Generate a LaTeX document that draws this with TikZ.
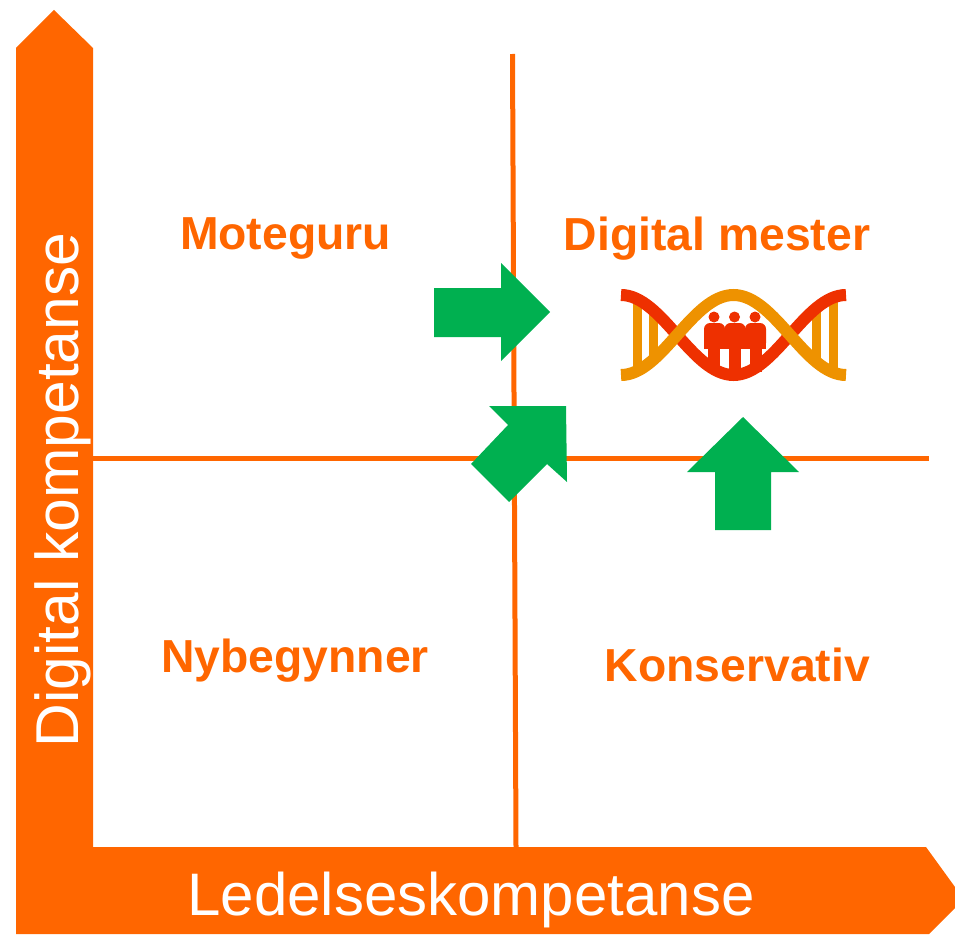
\documentclass[tikz,border=0pt]{standalone}
\usepackage{fontspec}
\setmainfont{Liberation Sans}
\definecolor{axisorange}{HTML}{FF6600}
\definecolor{arrowgreen}{HTML}{00B050}
\definecolor{dnared}{HTML}{EE3000}
\definecolor{dnaorange}{HTML}{EE9200}
\tikzset{
  quadlabel/.style={anchor=base,inner sep=0pt,text=axisorange,font=\fontsize{46.3}{50}\selectfont\bfseries},
  axislabel/.style={anchor=base,inner sep=0pt,text=white},
  divider/.style={draw=axisorange,line width=5pt},
  greenarrow/.style={fill=arrowgreen,draw=none},
  strandred/.style={draw=dnared,line width=12pt},
  strandorange/.style={draw=dnaorange,line width=12pt},
  rung/.style={draw=dnaorange,line width=9pt},
  person/.style={fill=dnared,draw=none}
}
\begin{document}
\begin{tikzpicture}[x=1pt,y=-1pt]
\useasboundingbox (0,0) rectangle (955,934);
% axes
\fill[axisorange] (16,48) -- (54,10) -- (93,48) -- (93,847) -- (926,847) -- (955,887) -- (955,908) -- (929,934) -- (16,934) -- cycle;
% dividers
\coordinate (vtop) at (512.5,54);
\coordinate (vbot) at (516,847);
\coordinate (hleft) at (93,458);
\coordinate (hright) at (929,458);
\draw[divider] (vtop) -- (vbot);
\draw[divider] (hleft) -- (hright);
% axis labels
\node[axislabel,font=\fontsize{60}{64}\selectfont] (xlabel) at (471,915) {Ledelseskompetanse};
\node[axislabel,font=\fontsize{60.5}{64}\selectfont,rotate=90] (ylabel) at (78,490) {Digital kompetanse};
% quadrant labels
\node[quadlabel] (moteguru) at (285.5,249) {Moteguru};
\node[quadlabel] (mester) at (717,250) {Digital mester};
\node[quadlabel] (nybegynner) at (295,672) {Nybegynner};
\node[quadlabel] (konservativ) at (737.5,681) {Konservativ};
% green arrows
\fill[greenarrow] (434,288) -- (501,288) -- (501,263) -- (550,312) -- (501,361) -- (501,337) -- (434,337) -- cycle;
\fill[greenarrow] (489,406) -- (566,406) -- (567,482) -- (547,464) -- (509,502) -- (471,464) -- (508,425) -- cycle;
\fill[greenarrow] (743,417) -- (799,472) -- (771,472) -- (771,530) -- (715,530) -- (715,472) -- (687,472) -- cycle;
% DNA logo
\draw[rung] (637.5,299) -- (637.5,371);
\draw[rung] (653.5,310) -- (653.5,360);
\draw[rung] (816,310) -- (816,360);
\draw[rung] (833,299) -- (833,371);
\draw[strandred] (621,295) .. controls (662,295) and (692,375) .. (733.5,375) .. controls (775,375) and (805,295) .. (846,295);
\fill[person] (714,317) circle (5.5);
\fill[person] (734.5,317) circle (5.5);
\fill[person] (755,317) circle (5.5);
\foreach \bx in {704,724.5,745}{
  \fill[person,rounded corners=6pt] (\bx,349) -- (\bx,323) -- (\bx+21,323) -- (\bx+21,349) -- cycle;
  \fill[person] (\bx,340) rectangle (\bx+21,349);
}
\fill[person] (708,345) rectangle (720,372);
\fill[person] (729,345) rectangle (741,372);
\fill[person] (750,345) rectangle (762,372);
\draw[strandorange] (621,375) .. controls (662,375) and (692,295) .. (733.5,295) .. controls (775,295) and (805,375) .. (846,375);
\end{tikzpicture}
\end{document}
